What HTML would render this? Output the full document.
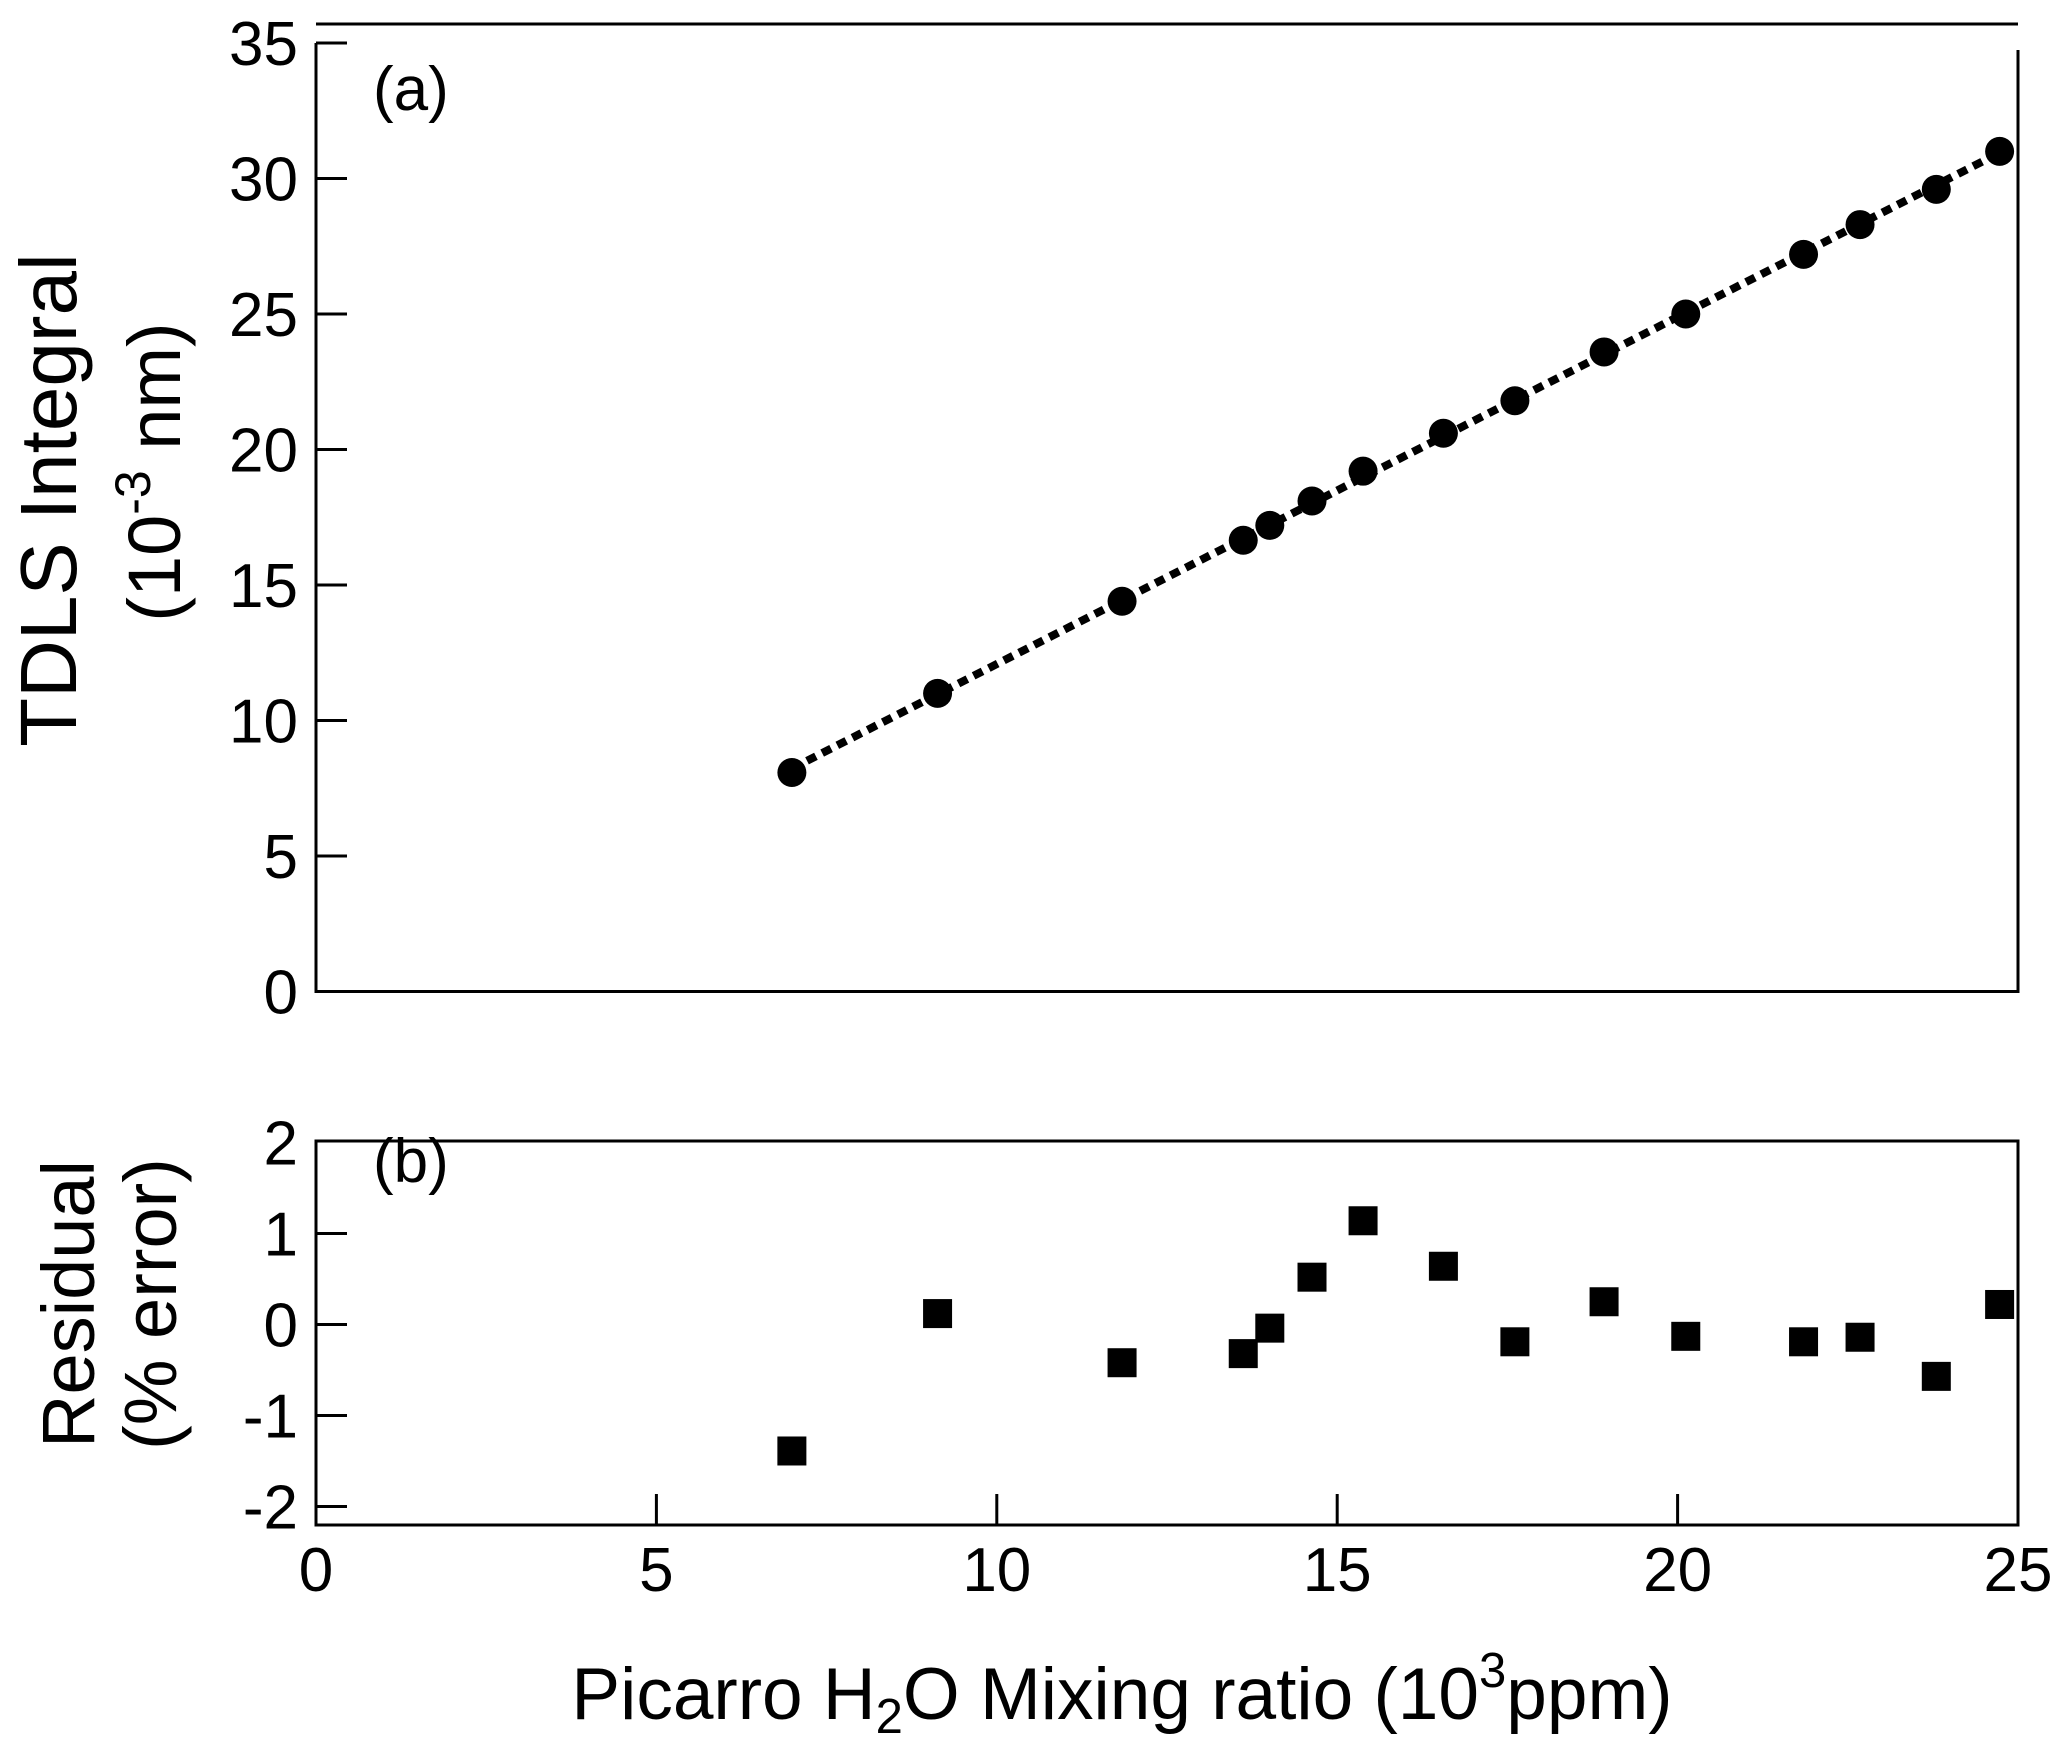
<!DOCTYPE html>
<html><head><meta charset="utf-8"><style>
html,body{margin:0;padding:0;background:#fff;}
svg{display:block;font-family:"Liberation Sans",Arial,sans-serif;}
</style></head><body>
<svg id="chart" width="2067" height="1753" viewBox="0 0 2067 1753" xmlns="http://www.w3.org/2000/svg">
<g id="frame"></g>
</svg>
<script>
const xValues = [6.99, 9.13, 11.84, 13.62, 14.01, 14.63, 15.38, 16.56, 17.61, 18.92, 20.12, 21.85, 22.68, 23.80, 24.73];
const integralValues = [8.08, 11.0, 14.4, 16.65, 17.2, 18.1, 19.2, 20.6, 21.8, 23.6, 25.0, 27.2, 28.3, 29.6, 31.0];
const residualValues = [-1.39, 0.12, -0.42, -0.32, -0.04, 0.52, 1.14, 0.64, -0.19, 0.25, -0.13, -0.19, -0.14, -0.57, 0.22];
const xTicks = [0, 5, 10, 15, 20, 25];
const topYTicks = [0, 5, 10, 15, 20, 25, 30, 35];
const botYTicks = [-2, -1, 0, 1, 2];

const NS = "http://www.w3.org/2000/svg";
const svg = document.getElementById('chart');
const L = 316, R = 2018;
const xs = v => L + (v - 0) / 25 * (R - L);
const yTop = v => 991.5 - v * (991.5 - 43) / 35;
const yBot = v => 1324.5 - v * 91;
function mk(tag, attrs, parent) {
  const e = document.createElementNS(NS, tag);
  for (const k in attrs) e.setAttribute(k, attrs[k]);
  (parent || svg).appendChild(e);
  return e;
}
const LW = 3;
const FS = 62;
let e;
e = mk('line', {x1: L, y1: 24, x2: R, y2: 24, stroke: '#000', 'stroke-width': LW});


e = mk('polyline', {points: `${L},43 ${L},991.5 ${R},991.5 ${R},50`, fill: 'none', stroke: '#000', 'stroke-width': LW});


e = mk('rect', {x: L, y: 1141, width: R - L, height: 1525 - 1141, fill: 'none', stroke: '#000', 'stroke-width': LW});



topYTicks.forEach(t => {
  const y = yTop(t);
  const l = mk('line', {x1: L, y1: y, x2: L + 31, y2: y, stroke: '#000', 'stroke-width': LW});
  
  
  const tx = mk('text', {x: 298, y: y + 22, 'text-anchor': 'end', 'font-size': FS});
  tx.textContent = t;
  
  
});
botYTicks.forEach(t => {
  const y = yBot(t);
  if (t !== 2) {
    const l = mk('line', {x1: L, y1: y, x2: L + 31, y2: y, stroke: '#000', 'stroke-width': LW});
    
    
  }
  const tx = mk('text', {x: 298, y: y + 22, 'text-anchor': 'end', 'font-size': FS});
  tx.textContent = t;
  
  
});
xTicks.forEach(t => {
  const x = xs(t);
  if (t !== 0 && t !== 25) {
    const l = mk('line', {x1: x, y1: 1525, x2: x, y2: 1494, stroke: '#000', 'stroke-width': LW});
    
    
  }
  const tx = mk('text', {x: x, y: 1591, 'text-anchor': 'middle', 'font-size': FS});
  tx.textContent = t;
  
  
});

const n = xValues.length;
let sx = 0, sy = 0, sxx = 0, sxy = 0;
for (let i = 0; i < n; i++) { sx += xValues[i]; sy += integralValues[i]; sxx += xValues[i] ** 2; sxy += xValues[i] * integralValues[i]; }
const slope = (n * sxy - sx * sy) / (n * sxx - sx * sx);
const icpt = (sy - slope * sx) / n;
const x0 = xValues[0], x1 = xValues[n - 1];
e = mk('line', {x1: xs(x0), y1: yTop(slope * x0 + icpt), x2: xs(x1), y2: yTop(slope * x1 + icpt), stroke: '#000', 'stroke-width': 8, 'stroke-dasharray': '10 7'});



xValues.forEach((v, i) => {
  const c = mk('circle', {cx: xs(v), cy: yTop(integralValues[i]), r: 14.5, fill: '#000'});
  
  
  const s = mk('rect', {x: xs(v) - 14.5, y: yBot(residualValues[i]) - 14.5, width: 29, height: 29, fill: '#000'});
  
  
});
</script>
<svg style="position:absolute;left:0;top:0" width="2067" height="1753" xmlns="http://www.w3.org/2000/svg" font-family="Liberation Sans, Arial, sans-serif">
<text x="373" y="110" font-size="62">(a)</text>
<text x="373" y="1182" font-size="62">(b)</text>
<text transform="translate(76,500) rotate(-90)" text-anchor="middle" font-size="80">TDLS Integral</text>
<text transform="translate(180,472) rotate(-90)" text-anchor="middle" font-size="74">(10<tspan font-size="50" dy="-30">-3</tspan><tspan dy="30"> nm)</tspan></text>
<text transform="translate(94,1304) rotate(-90)" text-anchor="middle" font-size="74">Residual</text>
<text transform="translate(176,1304) rotate(-90)" text-anchor="middle" font-size="74">(% error)</text>
<text x="1122" y="1719" text-anchor="middle" font-size="73">Picarro H<tspan font-size="49" dy="14">2</tspan><tspan dy="-14">O Mixing ratio (10</tspan><tspan font-size="49" dy="-32">3</tspan><tspan dy="32">ppm)</tspan></text>
</svg>
</body></html>
